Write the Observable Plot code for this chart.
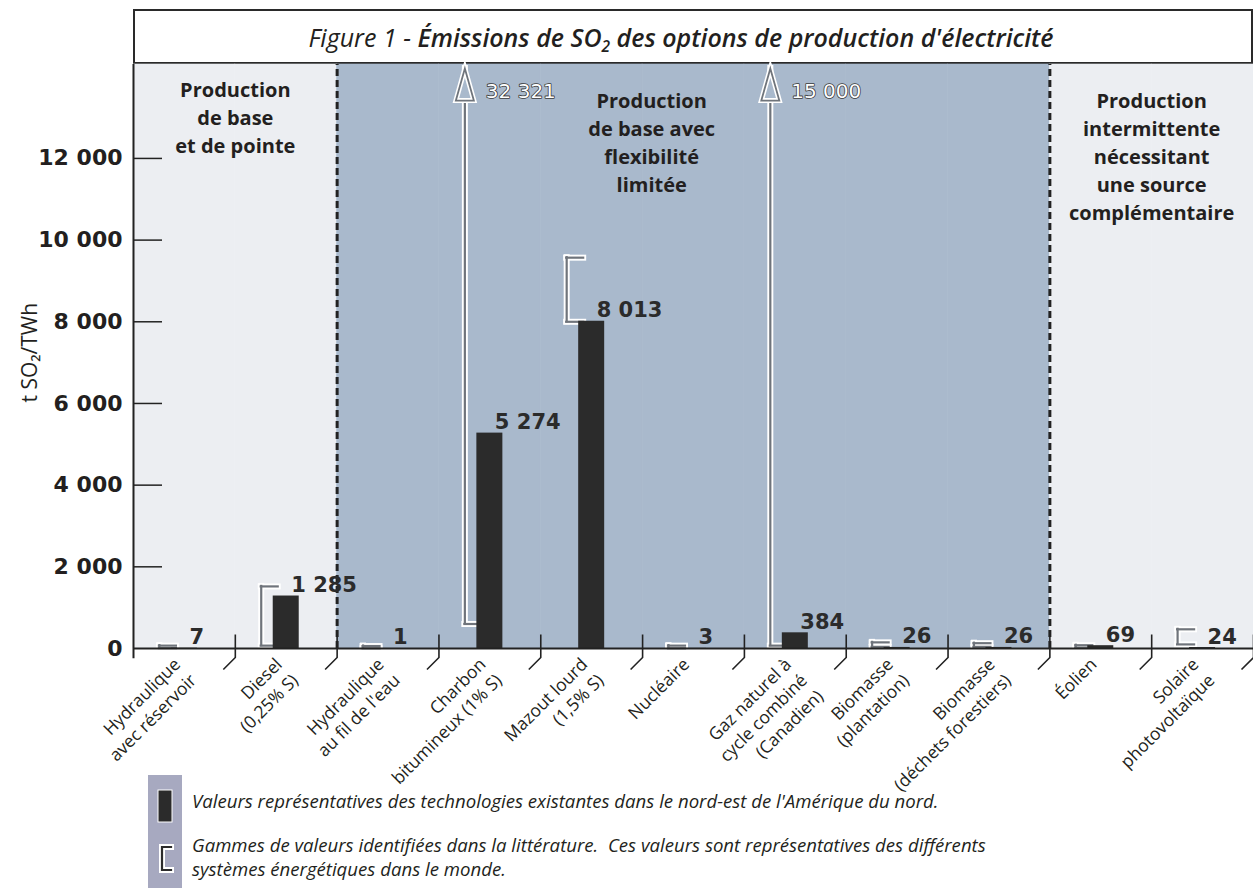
<!DOCTYPE html>
<html><head><meta charset="utf-8">
<script src="https://cdn.jsdelivr.net/npm/d3@7"></script>
<script src="https://cdn.jsdelivr.net/npm/@observablehq/plot@0.6"></script>
<style>
body{margin:0;background:#fff;width:1253px;height:888px;overflow:hidden;color:#231f20;}
#title{margin:9px 0 0 133px;width:1120px;height:55px;box-sizing:border-box;border:2px solid #2a2a2a;display:flex;align-items:center;justify-content:center;font-family:"Open Sans";font-style:italic;font-size:25px;padding-right:24px;white-space:nowrap;}
#title sub{font-size:0.62em;vertical-align:-0.3em;line-height:0;}
#chart svg{display:block;}
#legend{position:relative;height:113px;}
#legend .block{position:absolute;left:148px;top:0;width:34px;height:113px;background:#a7a9c0;}
#legend svg{position:absolute;left:148px;top:0;}
#legend .txt{position:absolute;left:192px;font-family:"Open Sans";font-style:italic;font-size:18.6px;line-height:20px;white-space:nowrap;}
</style></head>
<body>
<div id="title"><span>Figure 1 -&nbsp;</span><span style="font-weight:600">Émissions de SO<sub>2</sub> des options de production d'électricité</span></div>
<div id="chart"></div>
<div id="legend">
  <div class="block"></div>
  <svg width="34" height="113">
    <rect x="10" y="15" width="14" height="32" fill="#2b2b2b" stroke="#fff" stroke-width="1"></rect>
    <path d="M23 72 H14 V95 H23" stroke="#fff" stroke-width="6" fill="none" stroke-linecap="square"></path>
    <path d="M23 72 H14 V95 H23" stroke="#2b2b2b" stroke-width="2.2" fill="none" stroke-linecap="square"></path>
  </svg>
  <div class="txt" style="top:16px">Valeurs représentatives des technologies existantes dans le nord-est de l'Amérique du nord.</div>
  <div class="txt" style="top:60px">Gammes de valeurs identifiées dans la littérature.&nbsp; Ces valeurs sont représentatives des différents</div>
  <div class="txt" style="top:84px">systèmes énergétiques dans le monde.</div>
</div>
<script>
// ---- data ----
const categories = [
  "Hydraulique\navec réservoir",
  "Diesel\n(0,25% S)",
  "Hydraulique\nau fil de l'eau",
  "Charbon\nbitumineux (1% S)",
  "Mazout lourd\n(1,5% S)",
  "Nucléaire",
  "Gaz naturel à\ncycle combiné\n(Canadien)",
  "Biomasse\n(plantation)",
  "Biomasse\n(déchets forestiers)",
  "Éolien",
  "Solaire\nphotovoltaïque"
];
const groups = ["A", "A", "B", "B", "B", "B", "B", "B", "B", "C", "C"];
const values = [7, 1285, 1, 5274, 8013, 3, 384, 26, 26, 69, 24];
const rangeMin = [10, 70, 5, 600, 8000, 5, 70, 40, 40, 20, 100];
const rangeMax = [70, 1520, 60, 32321, 9570, 70, 15000, 150, 130, 80, 470];
const yTicks = [0, 2000, 4000, 6000, 8000, 10000, 12000];
const sectionTitles = [
  "Production\nde base\net de pointe",
  "Production\nde base avec\nflexibilité\nlimitée",
  "Production\nintermittente\nnécessitant\nune source\ncomplémentaire"
];
const yLabel = "t SO₂/TWh";

// ---- setup ----
const yMax = 14300;
const arrowTip = 14200;
const LIGHT = "#eceef2", BLUE = "#a9b9cc", INK = "#231f20", BAR = "#2b2b2b";
const groupColor = g => g === "B" ? BLUE : LIGHT;
const W = 1253, ML = 133, MR = 0;
const bw = (W - ML - MR) / categories.length;
const fmt = d3.formatLocale({decimal: ",", thousands: " ", grouping: [3], currency: ["", ""]}).format(",d");

const rows = categories.map((c, i) => ({cat: c, group: groups[i], value: values[i], min: rangeMin[i], max: rangeMax[i]}));
const boundaries = rows.filter((d, i) => i < rows.length - 1 && rows[i + 1].group !== d.group);
const clipped = rows.filter(d => d.max > yMax);
const inside = rows.filter(d => d.max <= yMax);

// one text row per label line (rotated labels)
const lineRows = rows.flatMap(d => d.cat.split("\n").map((t, j) => ({cat: d.cat, text: t, j})));
const lineJs = [...new Set(lineRows.map(d => d.j))];
const LSTEP = 16; // per-line shift (px, along both axes) for -45° text

const sepShape = {draw(ctx) { ctx.moveTo(0, -14); ctx.lineTo(0, 9); ctx.lineTo(-12, 21); }};
const headShape = {draw(ctx, l) { ctx.moveTo(-9, 0); ctx.lineTo(0, -l); ctx.lineTo(9, 0); ctx.closePath(); }};

const armInsetL = bw / 2 - 25, armInsetR = bw / 2 + 8;
function bracket(stroke, strokeWidth) {
  return [
    Plot.ruleX(rows, {x: "cat", y1: "min", y2: d => Math.min(d.max, arrowTip), dx: -25, stroke, strokeWidth, strokeLinecap: "square"}),
    Plot.tickY(inside, {x: "cat", y: "max", insetLeft: armInsetL, insetRight: armInsetR, stroke, strokeWidth, strokeLinecap: "square"}),
    Plot.tickY(rows, {x: "cat", y: "min", insetLeft: armInsetL, insetRight: armInsetR, stroke, strokeWidth, strokeLinecap: "square"})
  ];
}

const chart = Plot.plot({
  width: W, height: 711,
  marginTop: 0, marginLeft: ML, marginRight: MR, marginBottom: 127,
  style: {background: "white", fontFamily: "Open Sans", overflow: "visible"},
  x: {type: "band", domain: categories, padding: 0, round: false, axis: null},
  y: {domain: [0, yMax], axis: null},
  marks: [
    // panel backgrounds
    Plot.barY(rows, {x: "cat", y1: () => 0, y2: () => yMax, fill: d => groupColor(d.group), stroke: d => groupColor(d.group), strokeWidth: 0.6}),
    // dashed region separators
    Plot.ruleX(boundaries, {x: "cat", dx: bw / 2, y1: () => 0, y2: () => yMax, stroke: "#222", strokeWidth: 3, strokeDasharray: "7,4"}),
    // left axis line
    Plot.ruleX([categories[0]], {x: d => d, dx: -bw / 2, y1: () => -250, y2: () => yMax, stroke: "#222", strokeWidth: 2}),
    // y ticks (inward)
    Plot.ruleY(yTicks.filter(t => t > 0), {y: d => d, insetRight: W - ML - MR - 29, stroke: "#222", strokeWidth: 1.5}),
    // y tick labels
    Plot.text(yTicks, {y: d => d, text: d => fmt(d), frameAnchor: "left", dx: -11, textAnchor: "end", fontFamily: "DejaVu Sans", fontWeight: "bold", fontSize: 22, fill: INK}),
    // y label
    Plot.text([yLabel], {frameAnchor: "left", dx: -103, dy: 46, rotate: -90, fontSize: 21, fontFamily: "Open Sans", fill: INK}),
    // section headings
    Plot.text([sectionTitles[0]], {x: () => categories[0], dx: bw / 2, frameAnchor: "top", lineAnchor: "top", dy: 13, fontWeight: "bold", fontSize: 20, lineHeight: 1.4, fontFamily: "Open Sans", fill: INK}),
    Plot.text([sectionTitles[1]], {x: () => categories[4], dx: 60, frameAnchor: "top", lineAnchor: "top", dy: 24, fontWeight: "bold", fontSize: 20, lineHeight: 1.4, fontFamily: "Open Sans", fill: INK}),
    Plot.text([sectionTitles[2]], {x: () => categories[9], dx: bw / 2, frameAnchor: "top", lineAnchor: "top", dy: 24, fontWeight: "bold", fontSize: 20, lineHeight: 1.4, fontFamily: "Open Sans", fill: INK}),
    // range brackets (double line)
    ...bracket("#fff", 6),
    ...bracket("#6f747b", 2.2),
    // arrow heads for off-scale maxima
    Plot.vector(clipped, {x: "cat", y: () => arrowTip, dx: -25, anchor: "end", length: 32, shape: headShape, fill: d => groupColor(d.group), stroke: "#fff", strokeWidth: 5, strokeLinejoin: "miter"}),
    Plot.vector(clipped, {x: "cat", y: () => arrowTip, dx: -25, anchor: "end", length: 32, shape: headShape, fill: "none", stroke: "#6f747b", strokeWidth: 1.8, strokeLinejoin: "miter"}),
    Plot.text(clipped, {x: "cat", text: d => fmt(d.max), frameAnchor: "top", dy: 19, dx: -4, textAnchor: "start", fill: "#fff", stroke: "#3a3a3a", strokeWidth: 1.6, paintOrder: "stroke", fontFamily: "DejaVu Sans", fontSize: 20}),
    // bars
    Plot.barY(rows, {x: "cat", y: "value", fill: BAR, insetLeft: (bw - 26) / 2, insetRight: (bw - 26) / 2}),
    // value labels
    Plot.text(rows, {x: "cat", y: "value", text: d => fmt(d.value), dx: 5, dy: -4, textAnchor: "start", lineAnchor: "bottom", fontFamily: "DejaVu Sans", fontWeight: "bold", fontSize: 21, fill: "#2b2b2b"}),
    // baseline
    Plot.ruleY([0], {stroke: "#222", strokeWidth: 2.2}),
    // category separators
    Plot.vector(rows, {x: "cat", frameAnchor: "bottom", dx: bw / 2, length: 1, anchor: "start", shape: sepShape, stroke: "#222", strokeWidth: 1.6, strokeLinecap: "butt", strokeLinejoin: "miter"}),
    // category labels, one mark per line index
    ...lineJs.map(j => Plot.text(lineRows.filter(d => d.j === j), {
      x: "cat", frameAnchor: "bottom", text: "text", rotate: -45, textAnchor: "end",
      dx: -3 + j * LSTEP, dy: 17 + j * LSTEP,
      fontSize: 17.5, fontFamily: "Open Sans", fill: INK
    }))
  ]
});
document.getElementById("chart").appendChild(chart);
</script>
</body></html>
